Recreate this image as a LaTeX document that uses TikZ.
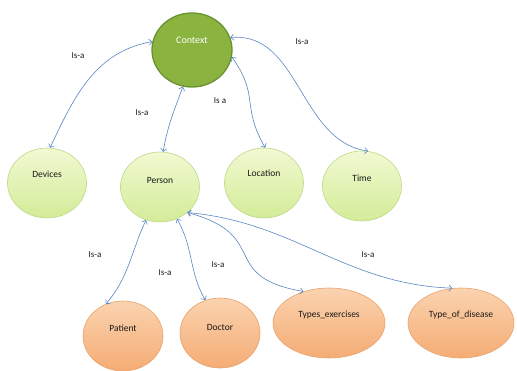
\documentclass[tikz,border=0pt]{standalone}
\usepackage{fontspec}
\setmainfont{Carlito}
\usetikzlibrary{arrows.meta,shapes.geometric}
\definecolor{ctxfill}{HTML}{8AB33F}
\definecolor{ctxline}{HTML}{6A9130}
\definecolor{grtop}{HTML}{F1F9D2}
\definecolor{grbot}{HTML}{D3EC98}
\definecolor{grline}{HTML}{BFD98A}
\definecolor{ortop}{HTML}{FBD3B0}
\definecolor{orbot}{HTML}{F5AC74}
\definecolor{orline}{HTML}{E8A26C}
\definecolor{linkc}{HTML}{5A86C4}
\begin{document}
\begin{tikzpicture}[x=1pt,y=1pt,
  ctxbox/.style={ellipse, draw=ctxline, line width=1.3pt, fill=ctxfill,
    minimum width=80pt, minimum height=74pt, inner sep=0pt},
  greenbox/.style={ellipse, draw=grline, line width=0.6pt, top color=grtop,
    bottom color=grbot, minimum width=79pt, minimum height=70pt, inner sep=0pt},
  orangebox/.style={ellipse, draw=orline, line width=0.6pt, top color=ortop,
    bottom color=orbot, minimum height=70pt, inner sep=0pt},
  txt/.style={font=\fontsize{9.5}{11}\selectfont, text=black!90},
  isa/.style={font=\fontsize{9}{10}\selectfont, text=black!90},
  link/.style={draw=linkc, line width=0.6pt,
    {Straight Barb[length=3pt,width=6pt]}-{Straight Barb[length=3pt,width=6pt]}}
]
\useasboundingbox (0,0) rectangle (517,370);
\fill[white] (0,0) rectangle (517,370);
\clip (0,0) rectangle (517,370);

\node[ctxbox, label={[font=\fontsize{10}{12}\selectfont, text=white, yshift=10pt]center:Context}] (ctx) at (192,320) {};
\node[greenbox, label={[txt, yshift=9pt]center:Devices}] (dev) at (47,187) {};
\node[greenbox, label={[txt, yshift=7pt]center:Person}] (per) at (160,183) {};
\node[greenbox, label={[txt, yshift=10pt]center:Location}] (loc) at (264,187) {};
\node[greenbox, label={[txt, yshift=8pt]center:Time}] (tim) at (362,184) {};
\node[orangebox, minimum width=80pt, label={[txt, yshift=8pt]center:Patient}] (pat) at (123,34) {};
\node[orangebox, minimum width=80pt, label={[txt, yshift=6pt]center:Doctor}] (doc) at (220,37) {};
\node[orangebox, minimum width=112pt, label={[txt, yshift=8pt]center:Types\_exercises}] (tex) at (329,47) {};
\node[orangebox, minimum width=106pt, label={[txt, yshift=8pt]center:Type\_of\_disease}] (tdi) at (461,47) {};

\draw[link] (ctx.168) to[out=190,in=65] (dev.85);
\draw[link] (ctx.256) to[out=250,in=80] (per.85);
\draw[link] (ctx.350) to[out=-55,in=120,looseness=1.3] (loc.88);
\draw[link] (ctx.18) to[out=5,in=172] (tim.80);
\draw[link] (per.247) to[out=245,in=50] (pat.118);
\draw[link] (per.298) to[out=-60,in=120] (doc.114);
\draw[link] (per.317) to[out=-15,in=170,looseness=1.6] (tex.129);
\draw[link] (per.317) to[out=-5,in=178] (tdi.104);

\node[isa] (l1) at (78,314) {Is-a};
\node[isa] (l2) at (302,328) {Is-a};
\node[isa] (l3) at (142,257) {Is-a};
\node[isa] (l4) at (220,269) {Is a};
\node[isa] (l5) at (95,115) {Is-a};
\node[isa] (l6) at (165,97) {Is-a};
\node[isa] (l7) at (218,105) {Is-a};
\node[isa] (l8) at (368,115) {Is-a};
\end{tikzpicture}
\end{document}
